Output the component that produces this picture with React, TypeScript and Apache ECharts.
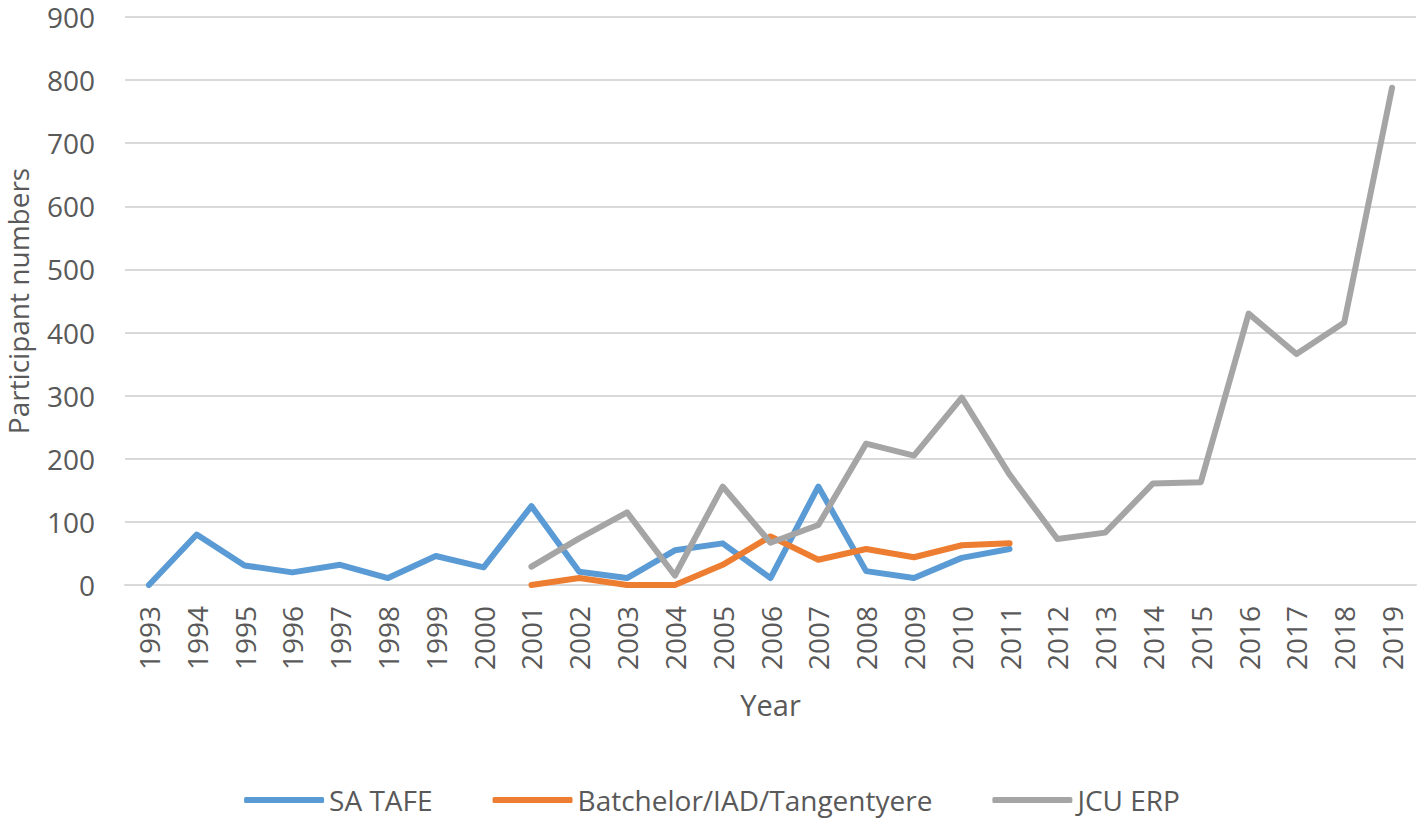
import React, { useEffect, useRef } from "react";
import * as echarts from "echarts";

const years = ["1993","1994","1995","1996","1997","1998","1999","2000","2001","2002","2003","2004","2005","2006","2007","2008","2009","2010","2011","2012","2013","2014","2015","2016","2017","2018","2019"];
const saTafe: (number | null)[] = [0, 80, 31, 20, 32, 11, 46, 28, 125, 21, 11, 55, 66, 11, 156, 22, 11, 43, 57, null, null, null, null, null, null, null, null];
const batchelor: (number | null)[] = [null, null, null, null, null, null, null, null, 0, 11, 0, 0, 32, 77, 40, 57, 44, 63, 66, null, null, null, null, null, null, null, null];
const jcuErp: (number | null)[] = [null, null, null, null, null, null, null, null, 29, 74, 115, 15, 156, 67, 95, 224, 205, 297, 175, 73, 83, 161, 163, 430, 366, 416, 788];
const yTicks = [0, 100, 200, 300, 400, 500, 600, 700, 800, 900];

const FONT = "'Open Sans', 'Noto Sans', sans-serif";
const TXT = "#595959";

export default function App() {
  const ref = useRef<HTMLDivElement>(null);
  useEffect(() => {
    const chart = echarts.init(ref.current!, null, { renderer: "svg" });
    const mk = (name: string, data: (number | null)[], color: string) => ({
      name,
      type: "line",
      data,
      symbol: "none",
      connectNulls: false,
      lineStyle: { color, width: 6, cap: "round", join: "round" },
      itemStyle: { color },
    });
    chart.setOption({
      animation: false,
      textStyle: { fontFamily: FONT },
      grid: { left: 125, right: 8, top: 17, bottom: 234, containLabel: false, outerBoundsMode: "none" },
      legend: {
        top: 781,
        left: "center",
        itemWidth: 80,
        itemHeight: 6,
        itemGap: 60,
        icon: "roundRect",
        textStyle: { fontSize: 28, color: TXT, fontFamily: FONT },
        data: ["SA TAFE", "Batchelor/IAD/Tangentyere", "JCU ERP"],
      },
      xAxis: {
        type: "category",
        data: years,
        boundaryGap: true,
        name: "Year",
        nameLocation: "middle",
        nameGap: 105,
        nameTextStyle: { fontSize: 29, color: TXT },
        axisLine: { show: true, lineStyle: { color: "#D9D9D9", width: 2 } },
        axisTick: { show: false },
        axisLabel: { rotate: 90, fontSize: 28, color: TXT, margin: 21, interval: 0 },
      },
      yAxis: {
        type: "value",
        min: yTicks[0],
        max: yTicks[yTicks.length - 1],
        interval: 100,
        name: "Participant numbers",
        nameLocation: "middle",
        nameGap: 94,
        nameTextStyle: { fontSize: 28, color: TXT, lineHeight: 26 },
        axisLine: { show: false },
        axisTick: { show: false },
        axisLabel: { fontSize: 28, color: TXT, margin: 30, lineHeight: 24 },
        splitLine: { lineStyle: { color: "#D9D9D9", width: 2 } },
      },
      series: [
        mk("SA TAFE", saTafe, "#5B9BD5"),
        mk("Batchelor/IAD/Tangentyere", batchelor, "#ED7D31"),
        mk("JCU ERP", jcuErp, "#A5A5A5"),
      ],
    });
    return () => chart.dispose();
  }, []);
  return <div ref={ref} style={{ position: "absolute", left: 0, top: 0, width: 1424, height: 819 }} />;
}
